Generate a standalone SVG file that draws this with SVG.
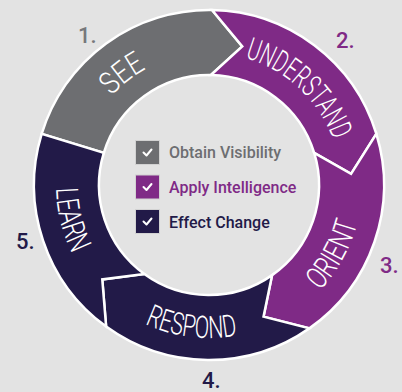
<svg xmlns="http://www.w3.org/2000/svg" width="402" height="392" viewBox="0 0 402 392">
<style>
.seg{stroke:#ffffff;stroke-width:2.5;stroke-linejoin:miter}
.gray{fill:#6d6e71}
.purple{fill:#7f2a86}
.dark{fill:#221a48}
.lbl{font-family:Roboto,"Liberation Sans",sans-serif;font-weight:300;font-size:31px;fill:#ffffff}
.num{font-family:Roboto,"Liberation Sans",sans-serif;font-weight:500;font-size:22px}
.leg{font-family:Roboto,"Liberation Sans",sans-serif;font-weight:500;font-size:16px}
.box{stroke:#d2d2d2;stroke-width:1}
.chk{fill:none;stroke:#ffffff;stroke-width:2;stroke-linecap:round;stroke-linejoin:round}
</style>
<defs>
<path id="pSee" d="M79.88,157.56 A132,132 0 0 1 213.61,53.08"/>
<path id="pUnd" d="M215.91,53.18 A132,132 0 0 1 340.02,168.91"/>
<path id="pOri" d="M263.83,327.84 A153,153 0 0 0 359.19,155.81"/>
<path id="pRes" d="M97.10,289.35 A153,153 0 0 0 292.33,313.32"/>
<path id="pLea" d="M71.48,117.93 A153,153 0 0 0 119.07,308.78"/>
</defs>
<rect width="402" height="392" fill="#e3e3e3"/>
<g id="see">
<path class="seg gray" d="M41.65,133.83 A175,175 0 0 1 212.05,10.03 L242.26,46.43 L210.92,75.02 A110,110 0 0 0 103.81,152.84 Z"/>
<text class="lbl"><textPath href="#pSee" startOffset="50%" text-anchor="middle" textLength="44" lengthAdjust="spacingAndGlyphs">SEE</textPath></text>
</g>
<g id="understand">
<path class="seg purple" d="M212.05,10.03 A175,175 0 0 1 376.35,133.83 L351.06,173.82 L314.19,152.84 A110,110 0 0 0 210.92,75.02 L242.26,46.43 Z"/>
<text class="lbl"><textPath href="#pUnd" startOffset="50%" text-anchor="middle" textLength="125" lengthAdjust="spacingAndGlyphs">UNDERSTAND</textPath></text>
</g>
<g id="orient">
<path class="seg purple" d="M376.35,133.83 A175,175 0 0 1 309.38,328.36 L263.53,316.65 L272.10,275.11 A110,110 0 0 0 314.19,152.84 L351.06,173.82 Z"/>
<text class="lbl"><textPath href="#pOri" startOffset="50%" text-anchor="middle" textLength="78" lengthAdjust="spacingAndGlyphs">ORIENT</textPath></text>
</g>
<g id="respond">
<path class="seg dark" d="M309.38,328.36 A175,175 0 0 1 106.13,326.58 L102.27,279.42 L144.34,273.99 A110,110 0 0 0 272.10,275.11 L263.53,316.65 Z"/>
<text class="lbl"><textPath href="#pRes" startOffset="50%" text-anchor="middle" textLength="95" lengthAdjust="spacingAndGlyphs">RESPOND</textPath></text>
</g>
<g id="learn">
<path class="seg dark" d="M106.13,326.58 A175,175 0 0 1 41.65,133.83 L103.81,152.84 A110,110 0 0 0 144.34,273.99 L102.27,279.42 Z"/>
<text class="lbl"><textPath href="#pLea" startOffset="50%" text-anchor="middle" textLength="68" lengthAdjust="spacingAndGlyphs">LEARN</textPath></text>
</g>
<g id="numbers">
<text class="num" x="78" y="43" fill="#77787b">1.</text>
<text class="num" x="336" y="48" fill="#7f2a86">2.</text>
<text class="num" x="380" y="273" fill="#7f2a86">3.</text>
<text class="num" x="202" y="388" fill="#221a48">4.</text>
<text class="num" x="16" y="249" fill="#221a48">5.</text>
</g>
<g id="legend-visibility">
<rect class="box gray" x="135.5" y="140.5" width="24" height="24"/>
<path class="chk" d="M143.5,152.5 L146.5,155.5 L151.5,149.5"/>
<text class="leg" x="169" y="158" fill="#6d6e71">Obtain Visibility</text>
</g>
<g id="legend-intelligence">
<rect class="box purple" x="135.5" y="175" width="24" height="24"/>
<path class="chk" d="M143.5,187 L146.5,190 L151.5,184"/>
<text class="leg" x="169" y="193" fill="#7f2a86">Apply Intelligence</text>
</g>
<g id="legend-change">
<rect class="box dark" x="135.5" y="209.5" width="24" height="24"/>
<path class="chk" d="M143.5,221.5 L146.5,224.5 L151.5,218.5"/>
<text class="leg" x="169" y="228" fill="#221a48">Effect Change</text>
</g>
</svg>
